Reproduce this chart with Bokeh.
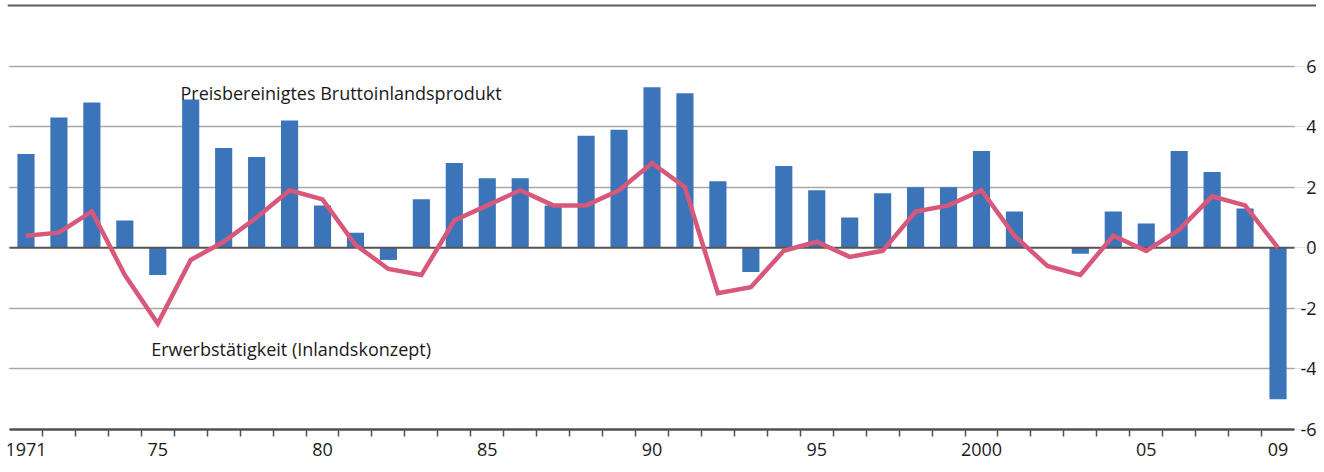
from bokeh.plotting import figure
from bokeh.models import Range1d, FixedTicker, Span, ColumnDataSource, LabelSet, Grid
from bokeh.core.properties import value
from bokeh.embed import file_html
from bokeh.resources import INLINE

years = list(range(1971, 2010))
bip = [3.1, 4.3, 4.8, 0.9, -0.9, 4.9, 3.3, 3.0, 4.2, 1.4,
       0.5, -0.4, 1.6, 2.8, 2.3, 2.3, 1.4, 3.7, 3.9, 5.3,
       5.1, 2.2, -0.8, 2.7, 1.9, 1.0, 1.8, 2.0, 2.0, 3.2,
       1.2, 0.0, -0.2, 1.2, 0.8, 3.2, 2.5, 1.3, -5.0]
erw = [0.4, 0.5, 1.2, -0.9, -2.5, -0.4, 0.2, 1.0, 1.9, 1.6,
       0.1, -0.7, -0.9, 0.9, 1.4, 1.9, 1.4, 1.4, 1.9, 2.8,
       2.0, -1.5, -1.3, -0.1, 0.2, -0.3, -0.1, 1.2, 1.4, 1.9,
       0.4, -0.6, -0.9, 0.4, -0.1, 0.6, 1.7, 1.4, 0.0]

tick_years = [1971, 1975, 1980, 1985, 1990, 1995, 2000, 2005, 2009]
tick_labels = ["1971", "75", "80", "85", "90", "95", "2000", "05", "09"]
y_ticks = [6, 4, 2, 0, -2, -4, -6]
y_labels = ["6", "4", "2", "0", "-2", "-4", "-6"]

bar_label = "Preisbereinigtes Bruttoinlandsprodukt"
bar_label_pos = (1975.69, 5.1)
line_label = "Erwerbstätigkeit (Inlandskonzept)"
line_label_pos = (1974.8, -3.34)

FONT = "Open Sans"
TXT = "#1a1a1a"

x0 = years[0] - 0.5
x1 = years[-1] + 0.5
PXY = 32.95   # px per year
PXU = 30.28   # px per unit
ZERO = 247.3  # canvas y of value 0

p = figure(width=1316, height=464, output_backend="svg", toolbar_location=None,
           x_range=Range1d(x0 - 2 / PXY, x1 + 22 / PXY),
           y_range=Range1d(-(464 - ZERO) / PXU, ZERO / PXU),
           y_axis_location=None,
           min_border_left=7, min_border_right=0, min_border_top=0, min_border_bottom=0)
p.outline_line_color = None
p.xgrid.visible = False

grid_ticks = [t for t in y_ticks if t not in (0, -6)]
g = Grid(dimension=1, ticker=FixedTicker(ticks=grid_ticks),
         grid_line_color="#a8a8a8", grid_line_width=1.6)
if "cross_bounds" in Grid.properties():
    g.cross_bounds = (x0, x1)
    p.add_layout(g)
else:
    p.segment(x0=[x0] * len(grid_ticks), x1=[x1] * len(grid_ticks),
              y0=grid_ticks, y1=grid_ticks, line_color="#a8a8a8", line_width=1.6)

# top rule
p.add_layout(Span(location=8, dimension="width", line_color="#5a5a5a", line_width=2))

src = ColumnDataSource(dict(year=years, bip=bip, erw=erw))
p.vbar(x="year", top="bip", bottom=0, width=0.52, source=src,
       fill_color="#3c74ba", line_color=None)

p.segment(x0=[x0], x1=[x1], y0=[0], y1=[0], line_color="#555555", line_width=2)

p.line(x="year", y="erw", source=src, line_color="#d7587a", line_width=4.5,
       line_join="miter")

ax = p.xaxis[0]
ax.fixed_location = y_ticks[-1]
ax.bounds = (x0, x1)
ax.ticker = FixedTicker(ticks=tick_years, minor_ticks=[y + 0.5 for y in years[:-1]])
ax.major_label_overrides = {t: l for t, l in zip(tick_years, tick_labels)}
ax.axis_line_color = "#505050"
ax.axis_line_width = 2.5
ax.major_tick_out = 0
ax.major_tick_in = 0
ax.minor_tick_out = 7
ax.minor_tick_in = 0
ax.minor_tick_line_color = "#505050"
ax.minor_tick_line_width = 1.5
ax.major_label_text_font = FONT
ax.major_label_text_font_size = "18px"
ax.major_label_text_color = TXT
ax.major_label_standoff = 7

ysrc = ColumnDataSource(dict(x=[x1 + 22 / PXY] * len(y_ticks), y=y_ticks, t=y_labels))
p.add_layout(LabelSet(x="x", y="y", text="t", source=ysrc, text_align="right",
                      text_baseline="middle", text_font=value(FONT),
                      text_font_size="18px", text_color=TXT))

p.text(x=[bar_label_pos[0]], y=[bar_label_pos[1]], text=[bar_label],
       text_font=value(FONT), text_font_size="18px", text_color=TXT,
       text_baseline="alphabetic", text_align="left")
p.text(x=[line_label_pos[0]], y=[line_label_pos[1]], text=[line_label],
       text_font=value(FONT), text_font_size="18px", text_color=TXT,
       text_baseline="alphabetic", text_align="left")

open("out.html", "w").write(file_html(p, INLINE))
